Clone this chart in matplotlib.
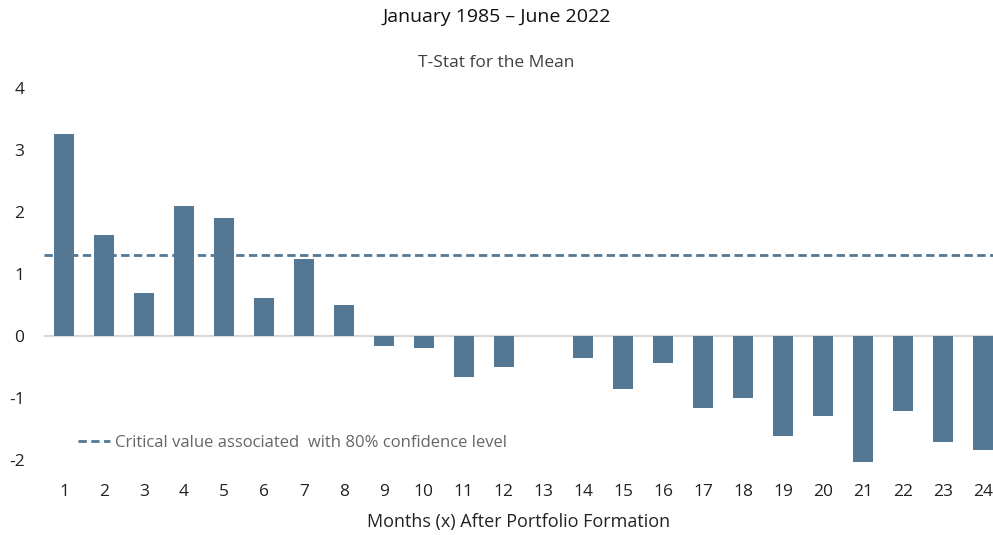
import numpy as np
import matplotlib.pyplot as plt

plt.rcParams['font.family'] = ['Open Sans', 'DejaVu Sans']
plt.rcParams['axes.unicode_minus'] = False

months = np.arange(1, 25)
tstat = [3.25, 1.63, 0.69, 2.09, 1.91, 0.61, 1.24, 0.50,
         -0.16, -0.19, -0.66, -0.51, 0.0, -0.36, -0.86, -0.43,
         -1.17, -1.01, -1.62, -1.30, -2.03, -1.22, -1.71, -1.85]
critical = 1.3

barcol = '#547893'

fig = plt.figure(figsize=(9.93, 5.35), dpi=100)
ax = fig.add_axes([0.0443, 0.129, 0.9557, 0.7065])

ax.bar(months, tstat, width=0.5, color=barcol, zorder=2)
ax.axhline(0, color='#d9d9d9', lw=1.5, zorder=1)
ax.axhline(critical, color=barcol, lw=2, ls=(0, (3, 1.6)), zorder=3,
           label='Critical value associated  with 80% confidence level')

ax.set_xlim(0.5, 24.25)
ax.set_ylim(-2.1, 4.0)
ax.set_xticks(months)
ax.set_yticks(range(-2, 5))
ax.tick_params(length=0, labelsize=12.5, colors='#222222')
ax.tick_params(axis='x', pad=13)
ax.tick_params(axis='y', pad=14)
for s in ax.spines.values():
    s.set_visible(False)

ax.set_xlabel('Months (x) After Portfolio Formation', fontsize=13, color='#222222', labelpad=9)

leg = ax.legend(loc='lower left', bbox_to_anchor=(0.02, 0.0), frameon=False,
                fontsize=12, handlelength=1.9, handletextpad=0.3)
for t in leg.get_texts():
    t.set_color('#666666')
    t.set_family(['Liberation Sans Narrow', 'Open Sans', 'DejaVu Sans'])

fig.text(0.5, 0.968, 'January 1985 – June 2022', ha='center', va='center', fontsize=14, color='#111111')
fig.text(0.5, 0.882, 'T-Stat for the Mean', ha='center', va='center', fontsize=12.5, color='#404040')

fig.savefig('out.png', dpi=100)
